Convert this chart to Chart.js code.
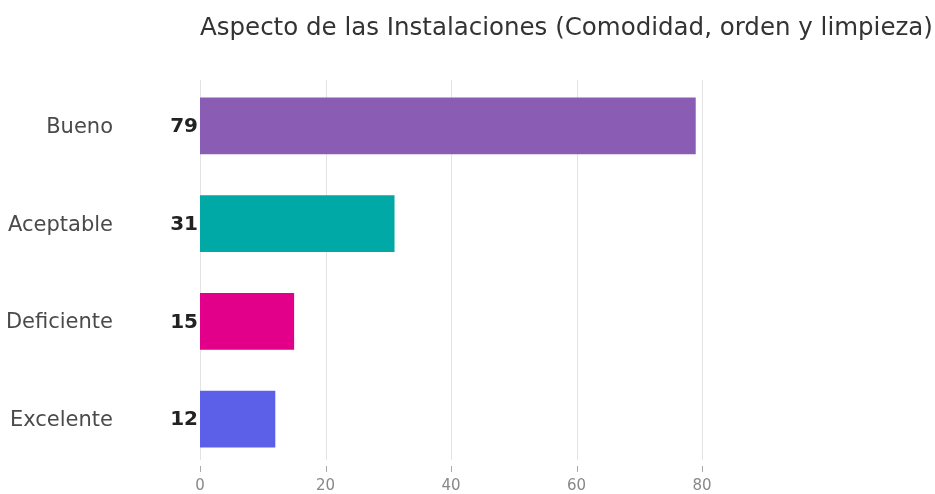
<!DOCTYPE html>
<html>
<head>
<meta charset="utf-8">
<script src="https://cdn.jsdelivr.net/npm/chart.js@4.4.1/dist/chart.umd.min.js"></script>
<style>
  html, body { margin: 0; padding: 0; background: #fff; overflow: hidden; }
  canvas { display: block; }
</style>
</head>
<body>
<canvas id="myChartBar" width="935" height="494"></canvas>
<script>
const chartTitle = "Aspecto de las Instalaciones (Comodidad, orden y limpieza)";
const categories = ["Bueno", "Aceptable", "Deficiente", "Excelente"];
const values = [79, 31, 15, 12];
const barColors = ["#8A5CB3", "#00A8A6", "#E2008B", "#5C60E8"];
const xTicks = [0, 20, 40, 60, 80];

// title, gridlines and value labels drawn by hand
const extras = {
  id: 'extras',
  beforeDatasetsDraw(chart) {
    const ctx = chart.ctx, area = chart.chartArea, x = chart.scales.x;
    ctx.save();
    xTicks.forEach(v => {
      const px = Math.round(x.getPixelForValue(v)) + 0.5;
      ctx.strokeStyle = "#e3e3e3";
      ctx.lineWidth = 1;
      ctx.beginPath();
      ctx.moveTo(px, area.top + 3);
      ctx.lineTo(px, area.bottom - 8);
      ctx.stroke();
      ctx.strokeStyle = "#aaa";
      ctx.beginPath();
      ctx.moveTo(px, area.bottom - 2);
      ctx.lineTo(px, area.bottom + 4);
      ctx.stroke();
    });
    ctx.restore();
  },
  afterDraw(chart) {
    const ctx = chart.ctx, area = chart.chartArea, y = chart.scales.y;
    ctx.save();
    ctx.fillStyle = "#333";
    ctx.font = "24.5px 'DejaVu Sans'";
    ctx.textBaseline = "middle";
    ctx.textAlign = "left";
    ctx.fillText(chartTitle, area.left, 29);
    ctx.fillStyle = "#222";
    ctx.font = "bold 20px 'DejaVu Sans'";
    ctx.textAlign = "right";
    values.forEach((v, i) => {
      ctx.fillText(String(v), area.left - 2, y.getPixelForValue(i) + 1);
    });
    ctx.restore();
  }
};

new Chart(document.getElementById("myChartBar").getContext("2d"), {
  type: 'bar',
  plugins: [extras],
  data: {
    labels: categories,
    datasets: [{
      data: values,
      backgroundColor: barColors,
      barPercentage: 0.58,
      categoryPercentage: 1
    }]
  },
  options: {
    indexAxis: 'y',
    responsive: false,
    animation: false,
    layout: { padding: { left: 0, right: 233, top: 77, bottom: 0 } },
    plugins: { legend: { display: false }, tooltip: { enabled: false } },
    scales: {
      x: {
        min: 0,
        max: 80,
        afterBuildTicks(s) { s.ticks = xTicks.map(v => ({ value: v })); },
        afterFit(s) { s.height = 26; s.paddingLeft = 0; s.paddingRight = 0; },
        grid: { display: false, drawTicks: false },
        border: { display: false },
        ticks: { color: "#888", font: { family: "DejaVu Sans", size: 15 }, padding: 9 }
      },
      y: {
        afterFit(s) { s.width = 200; s.paddingTop = 0; s.paddingBottom = 0; },
        grid: { display: false, drawTicks: false },
        border: { display: false },
        ticks: { color: "#4a4a4a", font: { family: "DejaVu Sans", size: 21 }, padding: 87, labelOffset: 1.5 }
      }
    }
  }
});
</script>
</body>
</html>
